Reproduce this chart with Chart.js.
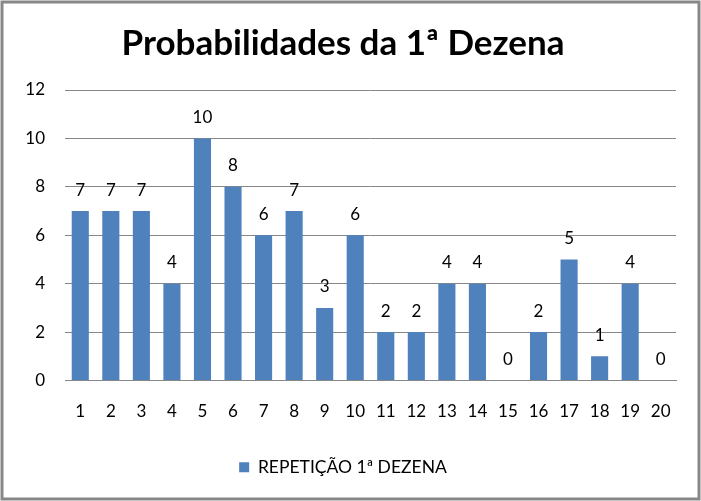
<!DOCTYPE html>
<html>
<head>
<meta charset="utf-8">
<script src="https://cdn.jsdelivr.net/npm/chart.js@4/dist/chart.umd.min.js"></script>
<style>
  html, body { margin: 0; padding: 0; background: #fff; }
  #wrap { width: 701px; height: 501px; }
</style>
</head>
<body>
<div id="wrap"><canvas id="myChart" width="701" height="501"></canvas></div>
<script>
const categories = ['1', '2', '3', '4', '5', '6', '7', '8', '9', '10',
  '11', '12', '13', '14', '15', '16', '17', '18', '19', '20'];
const repeticoes = [7, 7, 7, 4, 10, 8, 6, 7, 3, 6, 2, 2, 4, 4, 0, 2, 5, 1, 4, 0];
const yTicks = [0, 2, 4, 6, 8, 10, 12];

const fontFamily = 'Lato, "Open Sans", sans-serif';

// white background + grey frame, like the spreadsheet chart box
const frame = {
  id: 'frame',
  beforeDraw(chart) {
    const c = chart.ctx;
    c.save();
    c.fillStyle = '#fff';
    c.fillRect(0, 0, chart.width, chart.height);
    c.strokeStyle = '#878787';
    c.lineWidth = 3;
    c.strokeRect(2, 2, chart.width - 4, chart.height - 4);
    c.restore();
  }
};

// value labels above each bar
const valueLabels = {
  id: 'valueLabels',
  afterDatasetsDraw(chart) {
    const c = chart.ctx;
    const meta = chart.getDatasetMeta(0);
    c.save();
    c.font = '17px ' + fontFamily;
    c.fillStyle = '#000';
    c.textAlign = 'center';
    c.textBaseline = 'middle';
    meta.data.forEach((bar, i) => {
      c.fillText(String(repeticoes[i]), bar.x, bar.y - 21);
    });
    c.restore();
  }
};

const ctx = document.getElementById('myChart').getContext('2d');
new Chart(ctx, {
  type: 'bar',
  data: {
    labels: categories,
    datasets: [{
      label: 'REPETIÇÃO 1ª DEZENA',
      data: repeticoes,
      backgroundColor: '#4F81BD',
      borderWidth: 0,
      barPercentage: 0.56,
      categoryPercentage: 1.0,
    }],
  },
  options: {
    responsive: false,
    animation: false,
    layout: { padding: { left: 10, right: 25, top: 19, bottom: 15 } },
    plugins: {
      title: {
        display: true,
        text: 'Probabilidades da 1ª Dezena',
        color: '#000',
        font: { family: fontFamily, size: 35, weight: 'bold' },
        padding: { top: 4, bottom: 25 },
      },
      legend: {
        display: true,
        position: 'bottom',
        labels: {
          color: '#000',
          boxWidth: 10,
          boxHeight: 10,
          font: { family: fontFamily, size: 17.5 },
        },
      },
      tooltip: { enabled: false },
    },
    scales: {
      x: {
        grid: { display: false, drawTicks: false },
        border: { display: true, color: '#878787', width: 1 },
        ticks: {
          color: '#000',
          font: { family: fontFamily, size: 17 },
          padding: 21,
          maxRotation: 0,
          autoSkip: false,
        },
        afterFit(scale) { scale.height = 68; },
      },
      y: {
        min: 0,
        max: 12,
        grid: { color: '#878787', drawTicks: false },
        border: { display: false },
        afterBuildTicks(scale) { scale.ticks = yTicks.map(v => ({ value: v })); },
        ticks: {
          color: '#000',
          font: { family: fontFamily, size: 17 },
          padding: 20,
        },
        afterFit(scale) { scale.width = 55; },
      },
    },
  },
  plugins: [frame, valueLabels],
});
</script>
</body>
</html>
